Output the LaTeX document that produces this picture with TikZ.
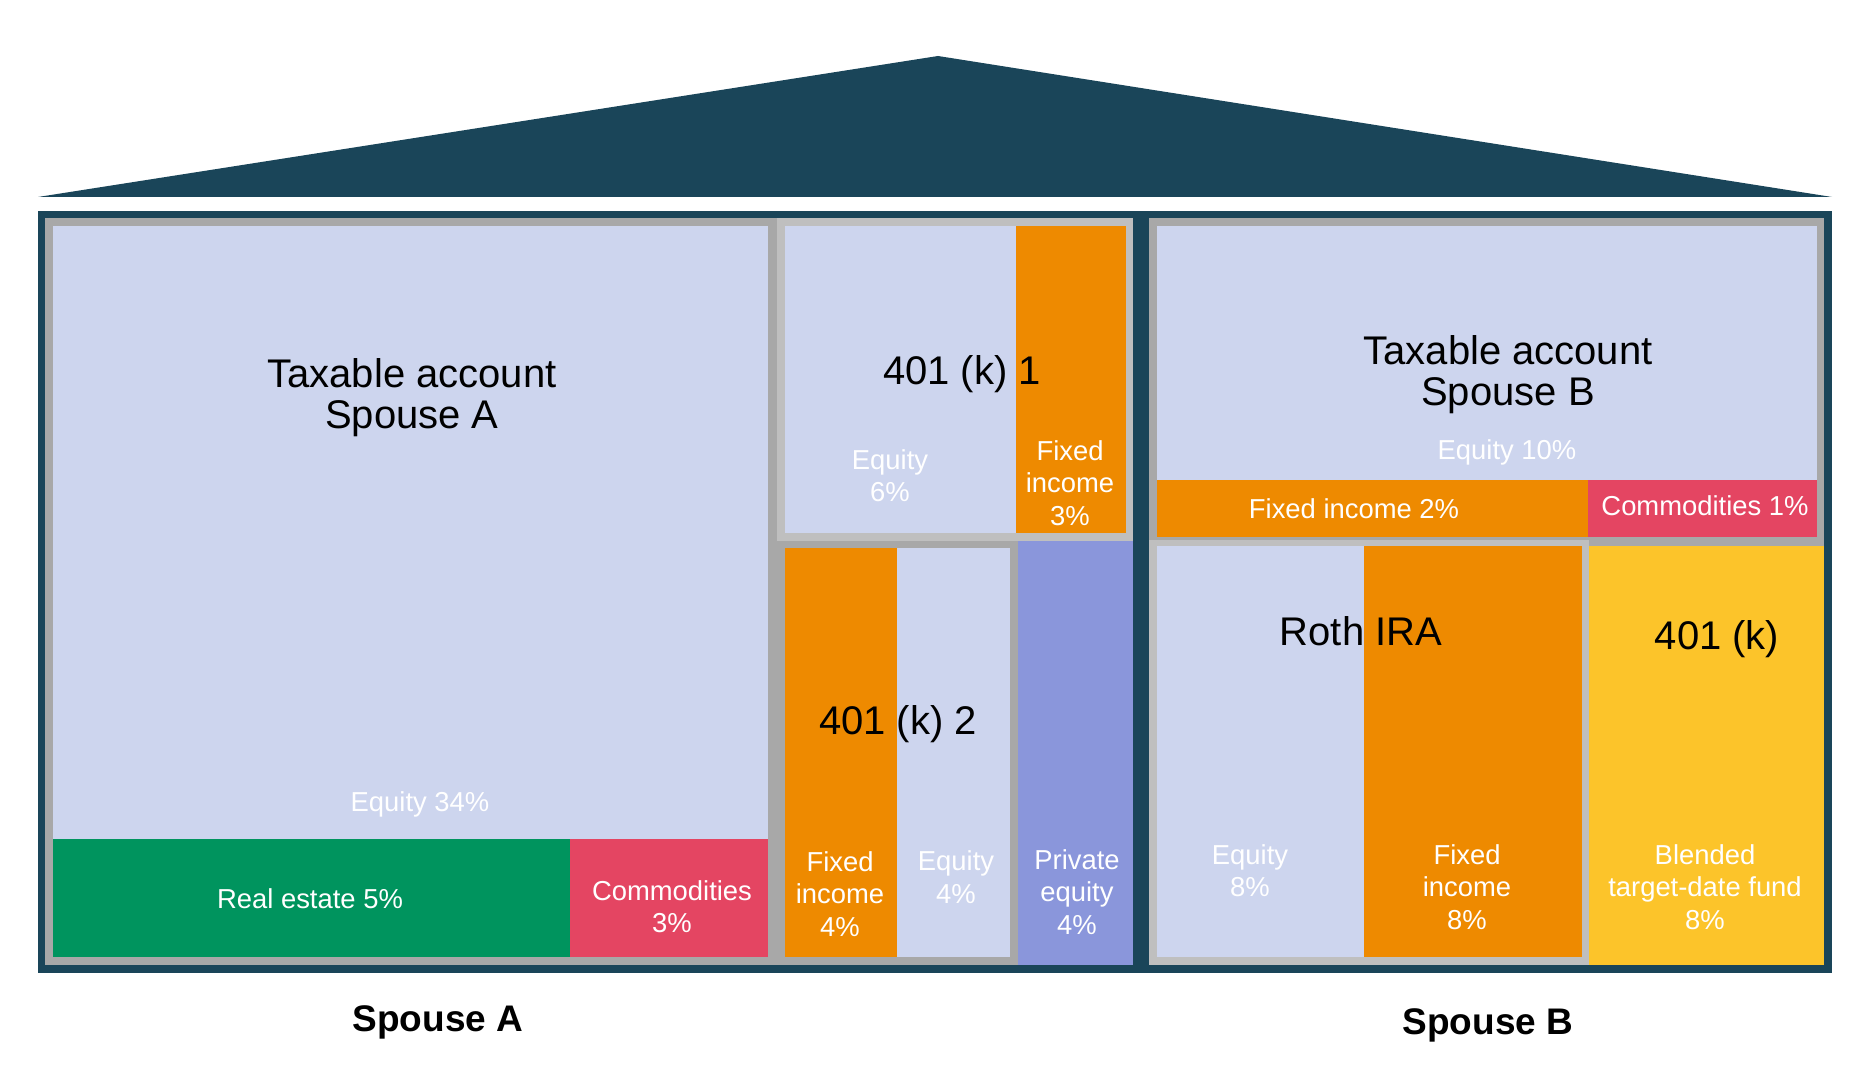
\documentclass[tikz,border=0pt]{standalone}
\usepackage{fontspec}
\setmainfont{Liberation Sans}
\usepackage{tikz}
\usepackage{xcolor}

\definecolor{houseDark}{HTML}{1A4559}
\definecolor{frameGrey}{HTML}{A8A8A8}
\definecolor{frameLight}{HTML}{BFBFBF}
\definecolor{equityBlue}{HTML}{CDD5EE}
\definecolor{fixedOrange}{HTML}{EE8A00}
\definecolor{commRed}{HTML}{E44562}
\definecolor{estateGreen}{HTML}{00945E}
\definecolor{privPurple}{HTML}{8A96DB}
\definecolor{blendYellow}{HTML}{FCC42A}

\begin{document}
\begin{tikzpicture}[x=0.5pt, y=-0.5pt,
        big/.style={font=\fontsize{20}{20.5}\selectfont, align=center, inner sep=0},
        small/.style={font=\fontsize{13.7}{16.2}\selectfont, align=center, text=white, inner sep=0},
        spouse/.style={font=\fontsize{18.5}{20}\selectfont\bfseries, inner sep=0}]
                        \useasboundingbox (0, 0) rectangle (1872, 1068);
                        % roof and house frame
                        \fill[houseDark] (38, 197) -- (938, 56) -- (1832, 197) -- cycle;
                        \fill[houseDark] (38, 211) rectangle (1832, 973);
                        % spouse A, taxable account
                        \fill[frameGrey] (45, 218) rectangle (777, 965);
                        \fill[equityBlue] (53, 226) rectangle (768, 839);
                        \fill[estateGreen] (53, 839) rectangle (570, 957);
                        \fill[commRed] (570, 839) rectangle (768, 957);
                        % 401 (k) 1
                        \fill[frameLight] (777, 218) rectangle (1133, 541);
                        \fill[equityBlue] (785, 226) rectangle (1016, 533);
                        \fill[fixedOrange] (1016, 226) rectangle (1126, 533);
                        % 401 (k) 2 and private equity
                        \fill[frameGrey] (777, 541) rectangle (1018, 965);
                        \fill[fixedOrange] (785, 548) rectangle (897, 957);
                        \fill[equityBlue] (897, 548) rectangle (1010, 957);
                        \fill[privPurple] (1018, 541) rectangle (1133, 965);
                        % spouse B, taxable account
                        \fill[frameGrey] (1149, 218) rectangle (1824, 546);
                        \fill[equityBlue] (1157, 226) rectangle (1817, 480);
                        \fill[fixedOrange] (1157, 480) rectangle (1588, 537);
                        \fill[commRed] (1588, 480) rectangle (1817, 537);
                        % roth IRA and 401 (k)
                        \fill[frameLight] (1149, 540) rectangle (1589, 965);
                        \fill[equityBlue] (1157, 546) rectangle (1364, 957);
                        \fill[fixedOrange] (1364, 546) rectangle (1582, 957);
                        \fill[blendYellow] (1589, 546) rectangle (1824, 965);
                        % labels
                        \node[big] (taxA) at (412, 398) {Taxable account\\Spouse A};
                        \node[small] (eqA) at (420, 804) {Equity 34\%};
                        \node[small] (reA) at (310, 899) {Real estate 5\%};
                        \node[small] (coA) at (672, 907) {Commodities\\3\%};
                        \node[big] (kOne) at (962, 374) {401 (k) 1};
                        \node[small] (eqOne) at (890, 476) {Equity\\6\%};
                        \node[small] (fiOne) at (1070, 483) {Fixed\\income\\3\%};
                        \node[big] (kTwo) at (898, 724) {401 (k) 2};
                        \node[small] (fiTwo) at (840, 894) {Fixed\\income\\4\%};
                        \node[small] (eqTwo) at (956, 877) {Equity\\4\%};
                        \node[small] (peTwo) at (1077, 892) {Private\\equity\\4\%};
                        \node[big] (taxB) at (1508, 375) {Taxable account\\Spouse B};
                        \node[small] (eqB) at (1507, 452) {Equity 10\%};
                        \node[small] (fiB) at (1354, 509) {Fixed income 2\%};
                        \node[small] (coB) at (1705, 506) {Commodities 1\%};
                        \node[big] (roth) at (1361, 631) {Roth IRA};
                        \node[big] (kB) at (1717, 639) {401 (k)};
                        \node[small] (eqRoth) at (1250, 871) {Equity\\8\%};
                        \node[small] (fiRoth) at (1467, 887) {Fixed\\income\\8\%};
                        \node[small] (tdf) at (1705, 887) {Blended\\target-date fund\\8\%};
                        \node[spouse] (spA) at (438, 1022) {Spouse A};
                        \node[spouse] (spB) at (1488, 1025) {Spouse B};
                    \end{tikzpicture}
\end{document}
